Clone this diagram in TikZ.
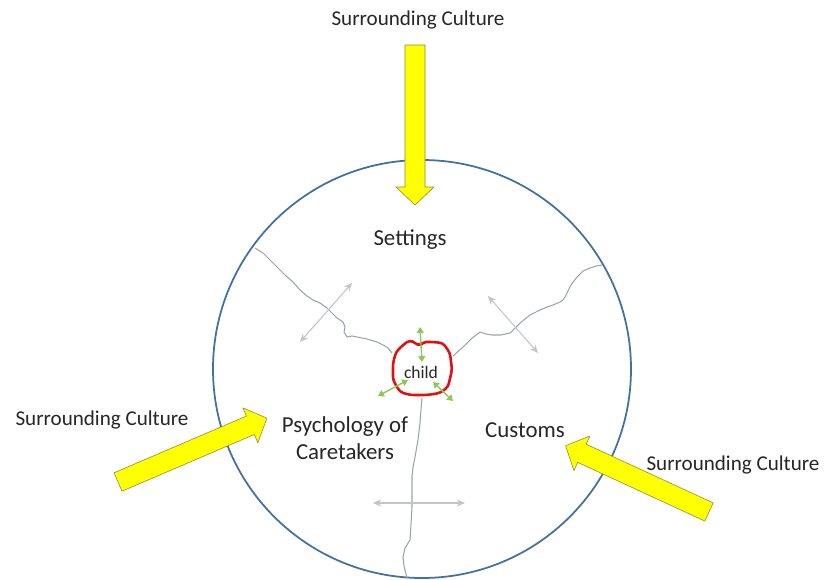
\documentclass[tikz,border=0pt]{standalone}
\usepackage{fontspec}
\setmainfont{Carlito}
\usetikzlibrary{arrows.meta}

\definecolor{cultureyellow}{HTML}{FFFF00}
\definecolor{arrowedge}{HTML}{8C8C3C}
\definecolor{worldblue}{HTML}{41719C}
\definecolor{crackgray}{HTML}{9AA3AB}
\definecolor{pushgray}{HTML}{C4C4C4}
\definecolor{childred}{HTML}{E01010}
\definecolor{growgreen}{HTML}{8DC85A}
\definecolor{labeltext}{HTML}{262626}

\begin{document}
\begin{tikzpicture}[x=0.03cm, y=-0.03cm, every node/.style={text=labeltext, inner sep=0pt},
    culturetext/.style={font=\fontsize{18}{22}\selectfont},
    areatext/.style={font=\fontsize{19.5}{23.5}\selectfont, align=center},
    crackline/.style={draw=crackgray, line width=0.9pt, line join=round},
    pusharrow/.style={draw=pushgray, line width=0.9pt, {Stealth[length=7pt,width=6pt]}-{Stealth[length=7pt,width=6pt]}},
    growarrow/.style={draw=growgreen, line width=1.2pt, {Triangle[length=5pt,width=6pt]}-{Triangle[length=5pt,width=6pt]}},
    pics/culture/.style={code={
        \draw[fill=cultureyellow, draw=arrowedge, line width=0.5pt, line join=round]
            (0,-10) -- ({#1-18},-10) -- ({#1-18},-19) -- (#1,0) -- ({#1-18},19) -- ({#1-18},10) -- (0,10) -- cycle;
    }}]
    \useasboundingbox (0,0) rectangle (827,580);

    \node[draw=worldblue, line width=1.5pt, circle, minimum size=12.54cm] (world) at (422,369) {};

    \node[culturetext] (cultop) at (418,20) {Surrounding Culture};
    \node[culturetext] (culleft) at (102,420) {Surrounding Culture};
    \node[culturetext] (culright) at (733,465) {Surrounding Culture};

    \node[areatext] (settings) at (410,240) {Settings};
    \node[areatext] (psych) at (345,438) {Psychology of\\Caretakers};
    \node[areatext] (customs) at (525,430) {Customs};

    % cracks between the three settings
    \coordinate (cracknw) at (255,248);
    \coordinate (crackne) at (602,265);
    \coordinate (cracks) at (407,578);
    \draw[crackline] (cracknw) -- (263,253) -- (272,262) -- (280,270) -- (285,275) -- (293,282) -- (300,290)
        -- (307,296) -- (313,300) -- (320,303) -- (327,308) -- (333,314) -- (337,318) -- (343,322)
        -- (345,327) -- (344,332) -- (347,337) -- (352,336) -- (357,337) -- (367,339) -- (377,342)
        -- (387,347) -- (392,353);
    \draw[crackline] (453,356) -- (463,347) -- (471,339) -- (480,332) -- (486,334) -- (492,335) -- (501,335)
        -- (510,333) -- (515,328) -- (520,323) -- (530,315) -- (538,311) -- (547,307) -- (553,305)
        -- (560,302) -- (563,300) -- (565,297) -- (567,293) -- (571,285) -- (577,277) -- (583,271)
        -- (590,268) -- (596,266) -- (crackne);
    \draw[crackline] (422,398) -- (421,410) -- (420,423) -- (418,440) -- (415,457) -- (413,467) -- (412,477)
        -- (412,492) -- (412,507) -- (411,524) -- (410,540) -- (405,548) -- (403,557) -- (404,566)
        -- (cracks);

    % pushing apart
    \coordinate (pushnwa) at (300,342);
    \coordinate (pushnwb) at (352,283);
    \coordinate (pushnea) at (488,296);
    \coordinate (pushneb) at (538,353);
    \coordinate (pushsa) at (373,503);
    \coordinate (pushsb) at (465,503);
    \draw[pusharrow] (pushnwa) -- (pushnwb);
    \draw[pusharrow] (pushnea) -- (pushneb);
    \draw[pusharrow] (pushsa) -- (pushsb);

    % the child
    \node[font=\fontsize{15}{18}\selectfont] (child) at (421,372) {child};
    \draw[childred, line width=2.2pt, line join=round, rounded corners=3pt]
        (393,363) -- (396,352) -- (403,345) -- (410,340) -- (415,343) -- (420,346) -- (423,342)
        -- (433,342) -- (443,343) -- (450,353) -- (452,370) -- (448,387) -- (440,393) -- (427,395)
        -- (410,395) -- (400,392) -- (393,380) -- cycle;
    \coordinate (growup) at (420,327);
    \coordinate (growin) at (422,362);
    \coordinate (growsw) at (378,396);
    \coordinate (growswin) at (408,380);
    \coordinate (growse) at (453,401);
    \coordinate (growsein) at (433,382);
    \draw[growarrow] (growup) -- (growin);
    \draw[growarrow] (growsw) -- (growswin);
    \draw[growarrow] (growsein) -- (growse);

    % outside pressure
    \pic[rotate=-90] (settingsarrow) at (415,45) {culture=160};
    \pic[rotate=23.2] (psycharrow) at (118,482) {culture=162};
    \pic[rotate=155.2] (customsarrow) at (709,512) {culture=158};
\end{tikzpicture}
\end{document}
